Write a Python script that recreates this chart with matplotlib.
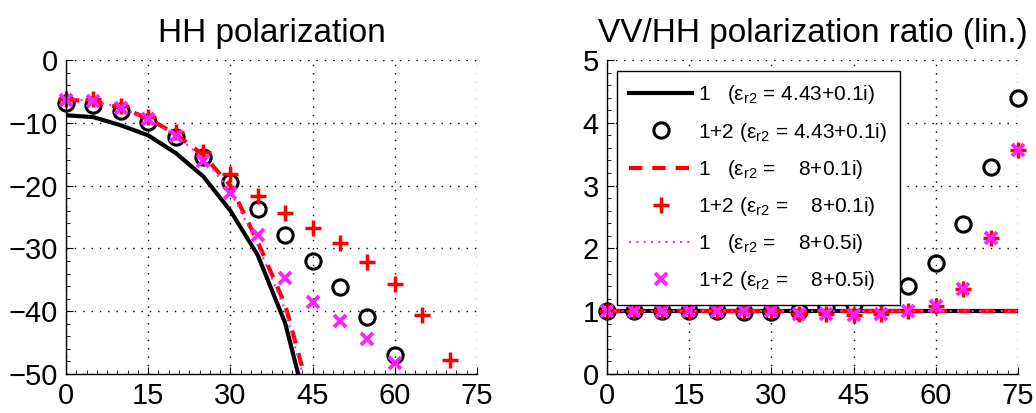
import matplotlib
matplotlib.use("Agg")
import matplotlib.pyplot as plt
from matplotlib.ticker import MultipleLocator
import numpy as np

plt.rcParams['font.family'] = ['Liberation Sans', 'DejaVu Sans']
plt.rcParams['mathtext.fontset'] = 'custom'
plt.rcParams['mathtext.rm'] = 'Liberation Sans'

# angles (deg)
ang = [0, 5, 10, 15, 20, 25, 30, 35, 40, 45]
ang_pts = [0, 5, 10, 15, 20, 25, 30, 35, 40, 45, 50, 55, 60]
ang_plus = [0, 5, 10, 15, 20, 25, 30, 35, 40, 45, 50, 55, 60, 65, 70]
ang_ratio = [0, 5, 10, 15, 20, 25, 30, 35, 40, 45, 50, 55, 60, 65, 70, 75]

# HH polarization (dB)
hh_l1_443 = [-8.8, -9.1, -10.4, -12.0, -14.8, -18.5, -24.0, -31.1, -41.9, -59.0]
hh_l1_8_01 = [-6.3, -6.6, -7.6, -9.3, -11.8, -15.1, -20.0, -29.0, -39.0, -55.0]
hh_l1_8_05 = [-6.2, -6.5, -7.6, -9.4, -12.0, -15.6, -20.8, -29.5, -39.8, -56.0]
hh_l12_443 = [-6.8, -7.1, -8.1, -9.9, -12.3, -15.5, -19.4, -23.7, -27.9, -32.0, -36.2, -41.0, -47.0]
hh_l12_8_01 = [-6.2, -6.2, -7.3, -9.0, -11.4, -14.6, -18.1, -21.6, -24.4, -26.7, -29.2, -32.2, -35.7, -40.6, -47.7]
hh_l12_8_05 = [-6.3, -6.5, -7.7, -9.4, -12.1, -16.1, -21.1, -27.9, -34.7, -38.6, -41.5, -44.5, -48.3]

# VV/HH ratio (linear)
r_l1_443 = [1.0] * 16
r_l1_8_01 = [1.0] * 16
r_l1_8_05 = [1.0] * 16
r_l12_443 = [1.0, 1.0, 1.0, 1.0, 1.0, 0.99, 0.99, 1.0, 1.06, 1.12, 1.22, 1.40, 1.77, 2.39, 3.30, 4.39]
r_l12_8_01 = [1.0, 1.0, 1.0, 1.0, 1.0, 1.0, 1.0, 0.95, 0.95, 0.94, 0.96, 1.0, 1.08, 1.36, 2.16, 3.56]
r_l12_8_05 = [1.0, 1.0, 1.0, 1.0, 1.0, 1.0, 1.0, 0.96, 0.95, 0.94, 0.96, 1.0, 1.08, 1.36, 2.16, 3.56]

labels = [
    r'1   (ε$_{\mathregular{r2}}$ = 4.43+0.1i)',
    r'1+2 (ε$_{\mathregular{r2}}$ = 4.43+0.1i)',
    r'1   (ε$_{\mathregular{r2}}$ =    8+0.1i)',
    r'1+2 (ε$_{\mathregular{r2}}$ =    8+0.1i)',
    r'1   (ε$_{\mathregular{r2}}$ =    8+0.5i)',
    r'1+2 (ε$_{\mathregular{r2}}$ =    8+0.5i)',
]

MAG = '#ff22ff'
fig = plt.figure(figsize=(10.36, 4.13), dpi=100)
ax1 = fig.add_axes([66/1036, 39/413, 411/1036, 314/413])
ax2 = fig.add_axes([607/1036, 39/413, 411/1036, 314/413])

def style(ax, ymajor):
    ax.set_xlim(0, 75)
    ax.set_xticks([0, 15, 30, 45, 60, 75])
    ax.xaxis.set_minor_locator(MultipleLocator(15 / 8))
    ax.yaxis.set_minor_locator(MultipleLocator(ymajor / 5))
    for s in ['top', 'right']:
        ax.spines[s].set_visible(False)
    for s in ['left', 'bottom']:
        ax.spines[s].set_linewidth(1.0)
    ax.grid(True, which='major', color='black', linestyle=(0, (1, 5)), linewidth=1.0)
    ax.tick_params(which='major', direction='in', length=5, labelsize=21, pad=6)
    ax.tick_params(which='minor', direction='in', length=3)
    ax.set_axisbelow(True)

# left
ax1.plot(ang, hh_l1_443, color='black', lw=3)
ax1.plot(ang_pts, hh_l12_443, 'o', ms=11, mfc='none', mec='black', mew=2.2, clip_on=False)
ax1.plot(ang, hh_l1_8_01, color='red', lw=3, dashes=(3.2, 2.4))
ax1.plot(ang_plus, hh_l12_8_01, '+', ms=12, mec='red', mew=2.5, clip_on=False)
ax1.plot(ang, hh_l1_8_05, color=MAG, lw=1.5, linestyle=(0, (1, 2.5)))
ax1.plot(ang_pts, hh_l12_8_05, 'x', ms=9, mec=MAG, mew=2.8, clip_on=False)
ax1.set_ylim(-50, 0)
ax1.set_yticks([0, -10, -20, -30, -40, -50])
style(ax1, 10)
ax1.set_title('HH polarization', fontsize=24, pad=13)

# right
h1, = ax2.plot(ang_ratio, r_l1_443, color='black', lw=3)
h2, = ax2.plot(ang_ratio, r_l12_443, 'o', ms=11, mfc='none', mec='black', mew=2.2, clip_on=False)
h3, = ax2.plot(ang_ratio, r_l1_8_01, color='red', lw=3, dashes=(3.2, 2.4))
h4, = ax2.plot(ang_ratio, r_l12_8_01, '+', ms=12, mec='red', mew=2.5, clip_on=False)
h5, = ax2.plot(ang_ratio, r_l1_8_05, color=MAG, lw=1.5, linestyle=(0, (1, 2.5)))
h6, = ax2.plot(ang_ratio, r_l12_8_05, 'x', ms=9, mec=MAG, mew=2.8, clip_on=False)
ax2.set_ylim(0, 5)
ax2.set_yticks([0, 1, 2, 3, 4, 5])
style(ax2, 1)
ax2.set_title('VV/HH polarization ratio (lin.)', fontsize=24, pad=13)

leg = ax2.legend([h1, h2, h3, h4, h5, h6], labels, loc='upper left',
                 bbox_to_anchor=(0.024, 0.965), borderaxespad=0, fancybox=False,
                 edgecolor='black', framealpha=1, fontsize=15, handlelength=3.0,
                 labelspacing=0.68, handletextpad=0.3, borderpad=0.6)
leg.get_frame().set_linewidth(1.0)
leg.set_zorder(5)

fig.savefig('out.png', dpi=100)
